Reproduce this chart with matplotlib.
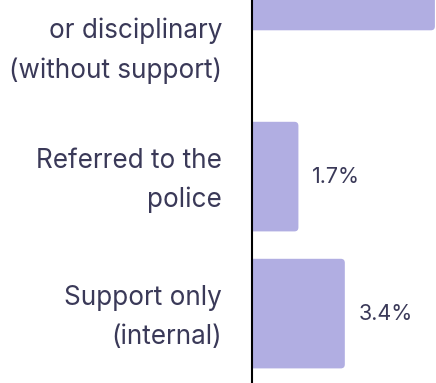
import matplotlib
matplotlib.use("Agg")
import matplotlib.pyplot as plt
from matplotlib.patches import FancyBboxPatch

# Outcome categories and share of cases (%)
categories = [
    "Referred for\nformal action\nor disciplinary\n(without support)",
    "Referred to the\npolice",
    "Support only\n(internal)",
]
values = [6.7, 1.7, 3.4]
value_labels = ["6.7%", "1.7%", "3.4%"]

BAR_COLOR = "#b1aee2"
TEXT_COLOR = "#3a3958"
FONT = ["Inter", "DejaVu Sans"]

plt.rcParams["font.family"] = FONT

fig = plt.figure(figsize=(4.36, 3.83), dpi=100)
px_w, px_h = 436, 383
px_per_pct = 27.3
x_max = 8.0
ax = fig.add_axes([252 / px_w, 0, x_max * px_per_pct / px_w, 1])

# row layout: each row grows to fit its wrapped label
line_h = 40 / 137
bar_h = 0.8
rows = []
top = 0.0
for label in categories:
    n_lines = label.count("\n") + 1
    h = max(1.0, n_lines * line_h + 0.3)
    rows.append((top, h))
    top += h

row_px = 137
view_top = 93 / row_px
ax.set_ylim(view_top + px_h / row_px, view_top)
ax.set_xlim(0, x_max)

radius = 4 / px_per_pct
aspect = px_per_pct / row_px
for (r_top, r_h), val, vlab, label in zip(rows, values, value_labels, categories):
    y0 = r_top + (1 - bar_h) / 2
    # start left of zero so only the right-hand corners show rounded
    bar = FancyBboxPatch((-1, y0), val + 1, bar_h,
                         boxstyle=f"round,pad=0,rounding_size={radius}",
                         mutation_aspect=aspect,
                         facecolor=BAR_COLOR, edgecolor="none")
    ax.add_patch(bar)
    ax.text(val + 14 / px_per_pct, y0 + bar_h / 2, vlab,
            ha="left", va="center", fontsize=15.5, color=TEXT_COLOR)
    ax.text(-30 / px_per_pct, r_top + r_h / 2 + 4 / row_px, label,
            ha="right", va="center", fontsize=18.8, color=TEXT_COLOR,
            linespacing=1.64, clip_on=False)

for side in ["top", "right", "bottom"]:
    ax.spines[side].set_visible(False)
ax.spines["left"].set_linewidth(1.5)
ax.spines["left"].set_color("black")
ax.set_xticks([])
ax.set_yticks([])

fig.savefig("out.png", dpi=100)
